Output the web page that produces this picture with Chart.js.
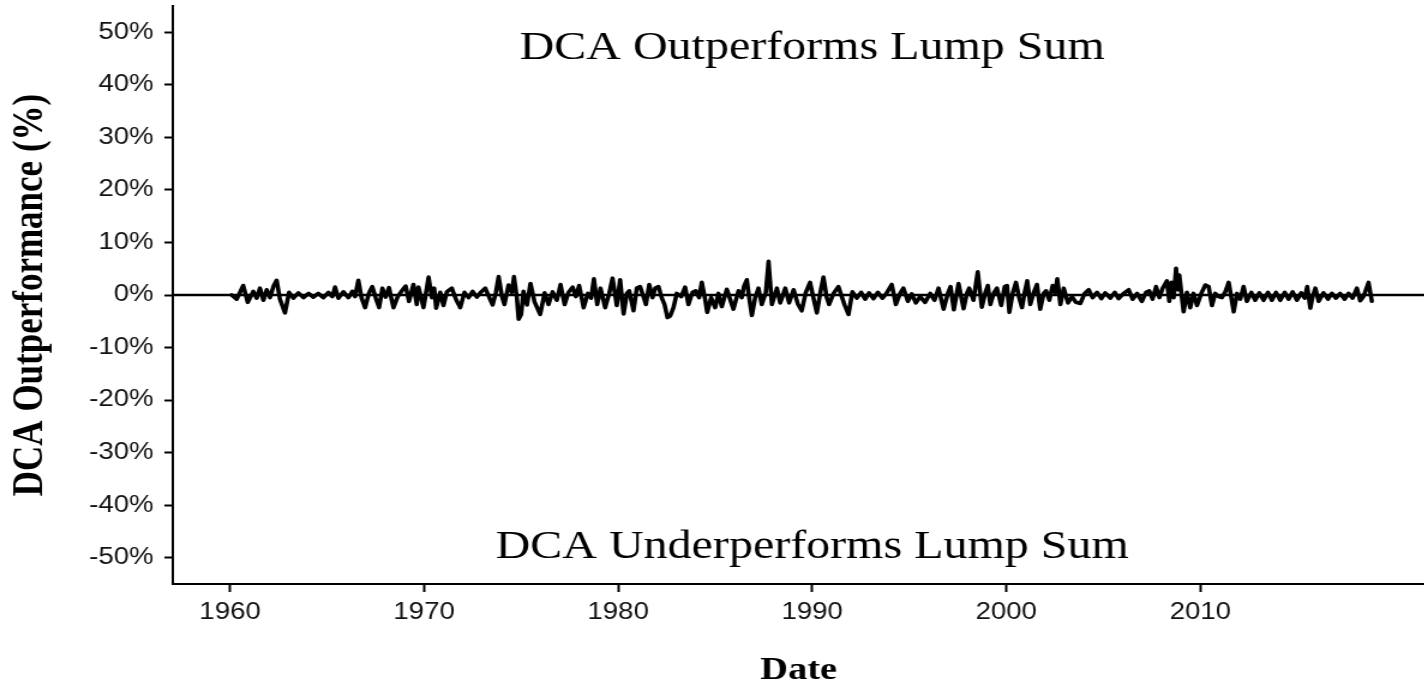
<!DOCTYPE html>
<html>
<head>
<meta charset="utf-8">
<script src="https://cdn.jsdelivr.net/npm/chart.js@4.4.1/dist/chart.umd.min.js"></script>
<style>
html, body { margin: 0; padding: 0; background: #fff; overflow: hidden; }
/* the reference picture is stretched sideways, so the whole chart is too */
#wrap { width: 1187px; height: 685px; transform: scaleX(1.2); transform-origin: 0 0; }
</style>
</head>
<body>
<div id="wrap"><canvas id="chart" width="1187" height="685"></canvas></div>
<script>
// month (decimal year) and DCA outperformance in %
const years = [
  1960.08, 1960.34, 1960.68, 1960.91, 1961.20, 1961.37, 1961.54, 1961.72, 1961.89, 1962.06,
  1962.23, 1962.40, 1962.57, 1962.83, 1963.04, 1963.26, 1963.52, 1963.78, 1964.04, 1964.29,
  1964.55, 1964.81, 1965.07, 1965.27, 1965.41, 1965.58, 1965.84, 1966.10, 1966.30, 1966.44,
  1966.61, 1966.78, 1966.96, 1967.16, 1967.33, 1967.51, 1967.68, 1967.85, 1968.02, 1968.19,
  1968.42, 1968.64, 1968.85, 1969.05, 1969.22, 1969.45, 1969.62,
  1969.71, 1969.97, 1970.23, 1970.40, 1970.52, 1970.62, 1970.83, 1971.00, 1971.17, 1971.43,
  1971.64, 1971.86, 1972.08, 1972.29, 1972.50, 1972.72, 1972.94, 1973.15, 1973.35, 1973.53,
  1973.70, 1973.84, 1974.01, 1974.14, 1974.35, 1974.52, 1974.63, 1974.78, 1974.87, 1975.00,
  1975.12, 1975.30, 1975.48, 1975.69, 1975.98, 1976.21, 1976.41, 1976.62, 1976.84, 1977.03,
  1977.24, 1977.44, 1977.65, 1977.82, 1977.99, 1978.22, 1978.44, 1978.61, 1978.75, 1978.92,
  1979.09, 1979.33,
  1979.54, 1979.71, 1979.93, 1980.10, 1980.28, 1980.45, 1980.57, 1980.79, 1980.96, 1981.13,
  1981.31, 1981.43, 1981.60, 1981.77, 1981.91, 1982.08, 1982.25, 1982.39, 1982.54, 1982.68,
  1982.85, 1983.02, 1983.25, 1983.45, 1983.62, 1983.83, 1984.00, 1984.17, 1984.31, 1984.48,
  1984.59, 1984.79, 1985.00, 1985.17, 1985.34, 1985.60, 1985.77, 1985.94, 1986.20, 1986.37,
  1986.48, 1986.63, 1986.75, 1986.89, 1987.06, 1987.23, 1987.40, 1987.61, 1987.75, 1987.92,
  1988.18, 1988.35, 1988.61, 1988.81, 1989.04, 1989.26,
  1989.46, 1989.67, 1989.89, 1990.06, 1990.24, 1990.41, 1990.58, 1990.75, 1990.87, 1991.10,
  1991.35, 1991.53, 1991.66, 1991.87, 1992.07, 1992.30, 1992.52, 1992.73, 1992.93, 1993.16,
  1993.38, 1993.62, 1993.84, 1994.10, 1994.31, 1994.53, 1994.70, 1994.93, 1995.13, 1995.34,
  1995.56, 1995.82, 1996.08, 1996.30, 1996.51, 1996.77, 1996.99, 1997.13, 1997.30, 1997.54,
  1997.80, 1997.97, 1998.09, 1998.31, 1998.53, 1998.74, 1998.91, 1999.05,
  1999.18, 1999.35, 1999.52, 1999.74, 1999.92, 2000.04, 2000.16, 2000.33, 2000.50, 2000.67,
  2000.81, 2000.95, 2001.08, 2001.24, 2001.41, 2001.58, 2001.75, 2001.93, 2002.05, 2002.22,
  2002.39, 2002.53, 2002.63, 2002.79, 2002.96, 2003.18, 2003.39, 2003.59, 2003.82, 2004.04,
  2004.25, 2004.45, 2004.68, 2004.90, 2005.10, 2005.36, 2005.59, 2005.79, 2006.05, 2006.31,
  2006.51, 2006.74, 2006.99, 2007.20, 2007.37, 2007.54, 2007.72, 2007.89, 2008.06, 2008.28,
  2008.40, 2008.51, 2008.63, 2008.75, 2008.85, 2008.92,
  2009.05, 2009.14, 2009.31, 2009.48, 2009.65, 2009.83, 2010.05, 2010.26, 2010.43, 2010.60,
  2010.77, 2010.94, 2011.11, 2011.29, 2011.46, 2011.60, 2011.72, 2011.89, 2012.06, 2012.23,
  2012.40, 2012.63, 2012.83, 2013.04, 2013.26, 2013.49, 2013.69, 2013.90, 2014.12, 2014.35,
  2014.55, 2014.76, 2014.98, 2015.20, 2015.38, 2015.51, 2015.67, 2015.79, 2015.93, 2016.10,
  2016.35, 2016.58, 2016.78, 2016.99, 2017.21, 2017.44, 2017.64, 2017.85, 2018.07, 2018.24,
  2018.41, 2018.67, 2018.84
];
const outperformance = [
  0.0, -0.8, 1.8, -1.4, 0.7, -0.6, 1.3, -1.0, 1.0, -0.5,
  1.6, 2.8, -0.8, -3.4, 0.5, -0.6, 0.4, -0.5, 0.3, -0.4,
  0.3, -0.5, 0.5, -0.3, 1.5, -0.6, 0.6, -0.5, 0.7, -0.3,
  2.8, -0.6, -2.4, 0.4, 1.6, -0.6, -2.4, 1.3, -0.4, 1.4,
  -2.4, -0.3, 0.8, 1.7, -1.2, 2.0, -1.8,
  1.5, -2.4, 3.4, -0.5, 1.3, -2.5, 0.5, -2.0, 0.6, 1.3,
  -0.8, -2.4, 0.5, -0.5, 0.7, -0.4, 0.6, 1.3, -0.4, -1.9,
  0.5, 3.5, -0.3, -1.8, 1.9, 0.5, 3.5, -0.5, -4.6, -3.7,
  0.7, -1.9, 2.2, -1.3, -3.7, 0.4, -1.8, 0.6, -1.0, 2.0,
  -1.8, 0.5, 1.5, -0.3, 1.8, -2.4, 0.3, -0.6, 3.1, -1.8,
  1.3, -2.4,
  0.3, 3.2, -2.0, 2.9, -3.6, 0.3, 0.8, -3.0, 1.3, 1.6,
  -0.4, -1.8, 2.0, -0.5, 1.3, 1.6, -0.6, -1.8, -4.3, -4.0,
  -2.4, 0.3, -0.3, 1.5, -1.8, 0.5, 0.8, -0.5, 2.4, -0.8,
  -3.3, -0.5, -2.4, 0.3, -2.2, 1.1, -0.8, -2.7, 0.8, -0.5,
  1.6, 2.9, -0.5, -3.9, -0.5, 1.3, -1.8, 0.5, 6.4, -1.8,
  1.3, -1.5, 1.3, -1.5, 1.0, -1.7,
  -3.0, 0.5, 2.4, -0.5, -3.4, 0.3, 3.4, -0.5, -1.8, 0.3,
  1.6, -0.4, -1.8, -3.7, 0.6, -0.6, 0.5, -0.8, 0.4, -0.7,
  0.5, -0.6, 0.4, 2.0, -1.8, 0.3, 1.3, -1.2, 0.2, -1.5,
  -0.3, -1.4, 0.3, -1.0, 1.3, -2.7, 0.3, 1.6, -2.8, 2.2,
  -2.6, 0.3, 1.3, -1.0, 4.4, -2.3, 0.3, 1.8,
  -1.8, 0.3, 1.3, -2.0, 1.6, 1.8, -3.3, 0.3, 2.4, -0.6,
  -2.4, 0.5, 2.7, -1.8, 0.4, 2.0, -2.7, 0.3, 0.8, -1.0,
  1.8, 0.5, 3.1, -1.8, 1.3, -1.5, -0.3, -1.4, -1.6, 0.3,
  1.0, -0.5, 0.5, -0.7, 0.4, -0.6, 0.5, -0.7, 0.3, 1.0,
  -0.8, 0.3, -1.2, 0.5, 0.8, -0.8, 1.6, -0.5, 1.3, 2.7,
  -1.2, 2.4, -0.5, 5.1, 1.0, 3.8,
  -0.5, -3.2, 0.5, -2.4, 0.3, -2.0, 0.3, 1.9, 1.6, -2.0,
  0.3, -0.3, -0.5, 0.6, 2.4, -0.5, -3.2, 0.3, -0.8, 1.6,
  -1.2, 0.5, -1.0, 0.4, -1.0, 0.5, -1.0, 0.5, -1.0, 0.5,
  -0.8, 0.6, -1.0, 0.4, -0.6, 1.6, -2.5, -0.3, 1.3, -1.2,
  0.4, -0.8, 0.3, -0.6, 0.3, -0.8, 0.3, -0.6, 1.3, -1.1,
  -0.3, 2.4, -1.2
];
const xTicks = [1960, 1970, 1980, 1990, 2000, 2010];
const yTicks = [-50, -40, -30, -20, -10, 0, 10, 20, 30, 40, 50];
const xMin = 1957.05;
const xMax = 2021.55;
const yMin = -55;
const yMax = 55;
const zeroLevel = 0;
const regionTexts = ['DCA Outperforms Lump Sum', 'DCA Underperforms Lump Sum'];
const regionLevels = [47, -48];
const regionYear = 1990;

const serif = '"Liberation Serif", "Times New Roman", serif';
const sans = '"Liberation Sans", Arial, sans-serif';

const regionLabels = {
  id: 'regionLabels',
  afterDatasetsDraw(chart) {
    const { ctx, scales } = chart;
    ctx.save();
    ctx.fillStyle = '#000';
    ctx.font = '40px ' + serif;
    ctx.textAlign = 'center';
    ctx.textBaseline = 'middle';
    regionTexts.forEach((t, i) => {
      ctx.fillText(t, scales.x.getPixelForValue(regionYear), scales.y.getPixelForValue(regionLevels[i]));
    });
    ctx.restore();
  }
};

const ctx = document.getElementById('chart').getContext('2d');
new Chart(ctx, {
  type: 'line',
  data: {
    datasets: [{
      data: years.map((yr, i) => ({ x: yr, y: outperformance[i] })),
      borderColor: '#000',
      borderWidth: 3.6,
      borderJoinStyle: 'round',
      borderCapStyle: 'round',
      pointRadius: 0,
      tension: 0
    }, {
      data: [{ x: xMin, y: zeroLevel }, { x: xMax, y: zeroLevel }],
      borderColor: '#000',
      borderWidth: 2.5,
      pointRadius: 0
    }]
  },
  options: {
    responsive: false,
    animation: false,
    devicePixelRatio: 1,
    layout: { padding: { top: 6, right: 0, bottom: 0, left: 0 } },
    plugins: { legend: { display: false }, tooltip: { enabled: false } },
    scales: {
      x: {
        type: 'linear',
        min: xMin,
        max: xMax,
        afterBuildTicks: axis => { axis.ticks = xTicks.map(v => ({ value: v })); },
        afterFit: axis => { axis.height = 101; axis.paddingLeft = 0; axis.paddingRight = 0; },
        grid: { drawOnChartArea: false, drawTicks: true, tickLength: 8, tickWidth: 2, tickColor: '#000' },
        border: { display: true, color: '#000', width: 2 },
        ticks: {
          autoSkip: false, maxRotation: 0, padding: 7, color: '#111',
          font: { family: sans, size: 23 },
          callback: v => String(v)
        },
        title: {
          display: true, text: 'Date', color: '#000',
          font: { family: serif, size: 32, weight: 'bold' },
          padding: { top: 0, bottom: -5 }
        }
      },
      y: {
        min: yMin,
        max: yMax,
        afterBuildTicks: axis => { axis.ticks = yTicks.map(v => ({ value: v })); },
        afterFit: axis => { axis.width = 144; axis.paddingTop = 0; axis.paddingBottom = 0; },
        grid: { drawOnChartArea: false, drawTicks: true, tickLength: 7, tickWidth: 2, tickColor: '#000' },
        border: { display: true, color: '#000', width: 2 },
        ticks: {
          padding: 9, color: '#111',
          font: { family: sans, size: 23 },
          callback: v => v + '%'
        },
        title: {
          display: true, text: 'DCA Outperformance (%)', color: '#000',
          font: { family: serif, size: 35, weight: 'bold' },
          padding: { top: 5, bottom: 0 }
        }
      }
    }
  },
  plugins: [regionLabels]
});
</script>
</body>
</html>
